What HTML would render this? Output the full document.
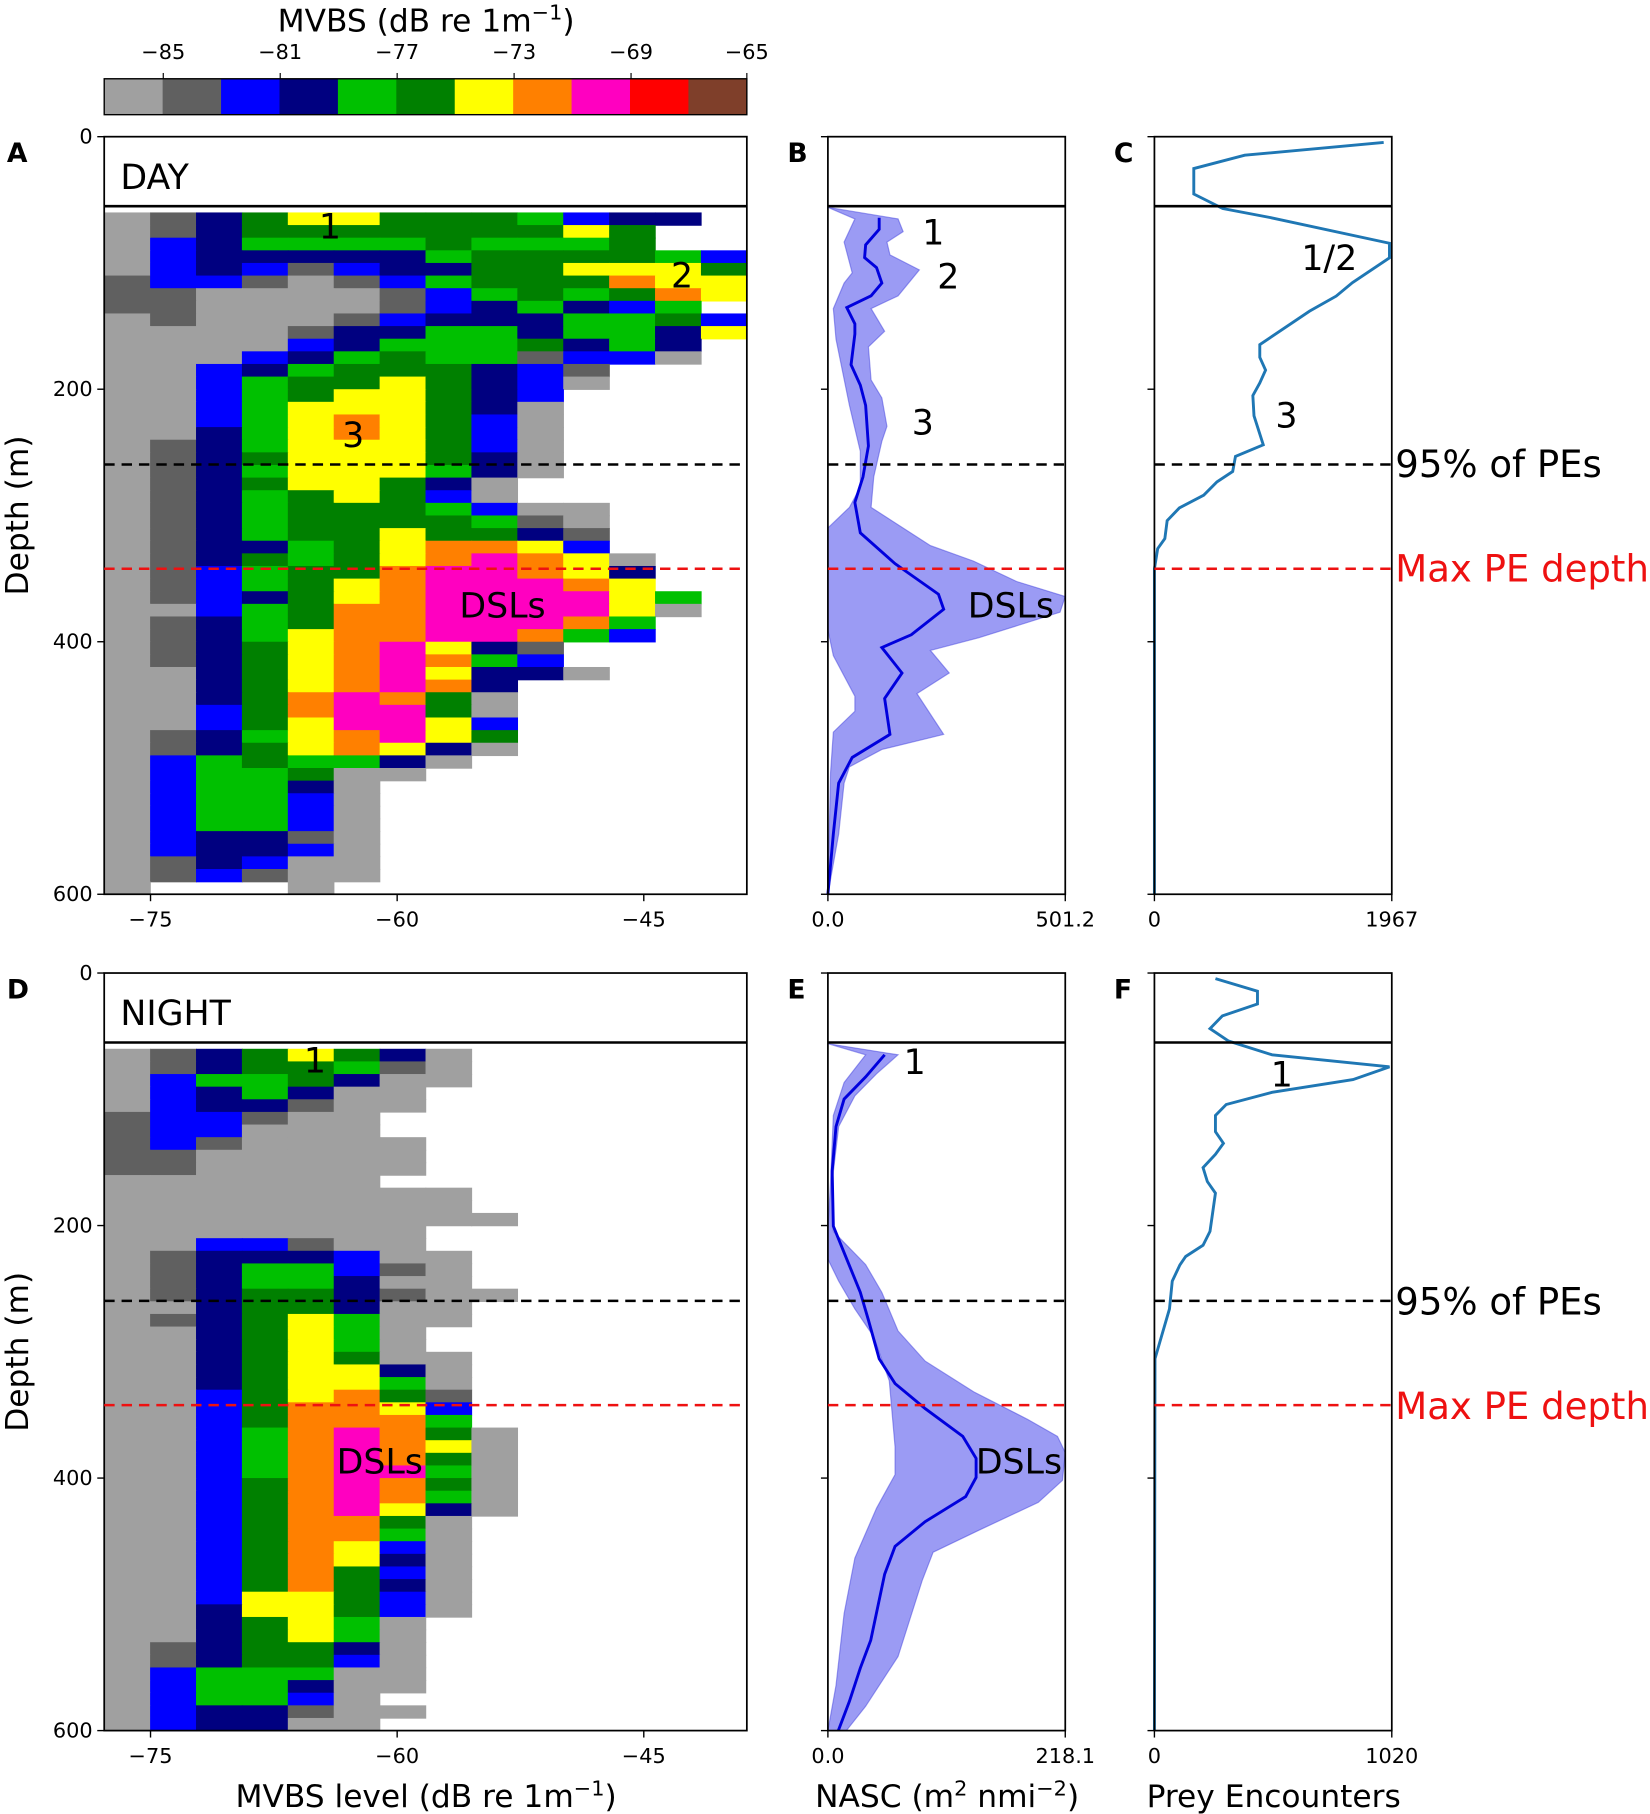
<!DOCTYPE html>
<html><head><meta charset="utf-8">
<style>
html,body{margin:0;padding:0;background:#fff;}
svg{display:block;}
text{font-family:"DejaVu Sans","Liberation Sans",sans-serif;}
</style></head>
<body>
<svg id="s" xmlns="http://www.w3.org/2000/svg" width="1650" height="1814" viewBox="0 0 1425 1566" preserveAspectRatio="none">
<rect x="0" y="0" width="1425" height="1566" fill="#fff"/>
<g id="heat"></g>
<g id="cbar"></g>
<rect x="90" y="68" width="555" height="31" fill="none" stroke="#000" stroke-width="1.2"/>
<text x="368" y="27" font-size="27" text-anchor="middle">MVBS (dB re 1m<tspan dy="-10" font-size="18">−1</tspan><tspan dy="10">)</tspan></text>
<g font-size="18" text-anchor="middle">
<text x="141" y="51">−85</text><text x="242" y="51">−81</text><text x="343" y="51">−77</text>
<text x="444" y="51">−73</text><text x="545" y="51">−69</text><text x="645" y="51">−65</text>
</g>
<g stroke="#000" stroke-width="1"><line x1="141" y1="63" x2="141" y2="68"/><line x1="242" y1="63" x2="242" y2="68"/><line x1="343" y1="63" x2="343" y2="68"/><line x1="444" y1="63" x2="444" y2="68"/><line x1="545" y1="63" x2="545" y2="68"/><line x1="645" y1="63" x2="645" y2="68"/></g>

<polygon fill="#6666ee" fill-opacity="0.65" stroke="#4444dd" stroke-opacity="0.5" points="715,179 775.6,189 780,200 766,209 768.6,220 794,233 775.6,255.4 752.3,266.4 764,286 750,299.4 752.3,328 761.6,343.5 766,368 761.6,381 754.6,411.7 752.3,438 803.5,471 840.8,484.4 878,502 920,515 915.5,528.5 845.5,550.5 803.5,561.5 819.8,581 791.9,598.8 815,634 761.6,647 733.6,662 729,676 724.3,720 715,772 717.3,667 719.7,632 738.3,614 738.3,601 719.7,566 715,543.8 715,455.8 733.6,438 743,420.5 743,389.7 733.6,350 722,292.8 719.7,266.4 729,244.4 736,235.6 729,209 738.3,189"/>
<polyline fill="none" stroke="#0000dd" stroke-width="2.5" points="759.3,188 759.3,198 747.6,211.4 746.7,222.4 757,231 761.6,244.4 752.3,255.4 731.3,265.5 738.3,279.6 738.3,288.4 735,314.9 743,332.5 747.6,350 750,385 745.3,411.7 738.3,433.8 743,460 773,486.6 810.5,513 815,526 787,548 761.6,559 779,581 764,603 768.6,634 736,653.9 724.3,676 719.7,720 715,772"/>
<polygon fill="#6666ee" fill-opacity="0.65" stroke="#4444dd" stroke-opacity="0.5" points="715,901 775.6,910.6 757,927 738.3,946 724.3,972.6 718.7,1020 719.7,1063 747.6,1091.7 761.6,1115.7 775.6,1149 799,1175 841,1201.6 887.7,1225.4 913.3,1240 920,1254 917.6,1278 896.7,1297 845.5,1321 805.9,1340 796.6,1364 775.6,1430 747.6,1473 731,1494 715,1494 722,1455 729,1393 738.3,1345 757,1302 773,1273 773,1249 768,1192 754.6,1154 738.3,1130 724.3,1106 715,1087 715,1063 717.3,1020 719.7,963 729,934.5 747.6,910.6"/>
<polyline fill="none" stroke="#0000dd" stroke-width="2.5" points="764,910.6 747.6,929.7 729,948.8 722,972.6 718.7,1010.8 719.7,1058.5 731.3,1087 743,1115.7 750,1139.6 759.3,1173 773,1194.4 799,1216 831.5,1240 843,1259 843,1275.5 834,1292 799,1313.6 773,1335 764,1359 752,1416 743,1440 733.6,1468.7 724,1494"/>
<polyline fill="none" stroke="#1f77b4" stroke-width="2.5" points="1195,123 1075,134 1031,145.5 1031,167.5 1056,180 1098,188 1200,210 1200,222.6 1168,244 1154,255.6 1131,268.6 1088,297.5 1088,308.5 1093,319.5 1088,330.6 1082,341.5 1083,359 1091,384 1067,394 1064.6,407 1051,416 1039.6,427.5 1018.5,438.5 1008,449.5 1006,465 999.8,473.7 997,491 997,772"/>
<polyline fill="none" stroke="#1f77b4" stroke-width="2.5" points="1049.7,844.8 1086,855.7 1086,866.7 1055.7,877 1045,888 1061,898.7 1098.6,910.6 1200,921 1168.5,932 1098.6,943 1059,953.5 1049.7,963 1049.7,977 1056.6,987 1049.7,996.5 1039,1008 1042.7,1020 1049.7,1030 1047,1049 1045,1063 1039,1075 1024,1084.7 1019,1092 1012.4,1106 1010,1130 1003,1154 997.5,1173 997,1494"/>

<g fill="none" stroke="#000" stroke-width="1.5">
<rect x="90" y="118" width="555" height="654"/><rect x="715" y="118" width="205" height="654"/><rect x="997" y="118" width="205" height="654"/>
<rect x="90" y="840" width="555" height="654"/><rect x="715" y="840" width="205" height="654"/><rect x="997" y="840" width="205" height="654"/>
</g>
<g stroke="#000" stroke-width="2.2">
<line x1="90" y1="178" x2="645" y2="178"/><line x1="715" y1="178" x2="920" y2="178"/><line x1="997" y1="178" x2="1202" y2="178"/>
<line x1="90" y1="900" x2="645" y2="900"/><line x1="715" y1="900" x2="920" y2="900"/><line x1="997" y1="900" x2="1202" y2="900"/>
</g>
<g stroke-width="2.2" stroke-dasharray="9,6">
<g stroke="#000"><line x1="90" y1="401" x2="645" y2="401"/><line x1="715" y1="401" x2="920" y2="401"/><line x1="997" y1="401" x2="1202" y2="401"/>
<line x1="90" y1="1123" x2="645" y2="1123"/><line x1="715" y1="1123" x2="920" y2="1123"/><line x1="997" y1="1123" x2="1202" y2="1123"/></g>
<g stroke="#ee1111"><line x1="90" y1="491" x2="645" y2="491"/><line x1="715" y1="491" x2="920" y2="491"/><line x1="997" y1="491" x2="1202" y2="491"/>
<line x1="90" y1="1213" x2="645" y2="1213"/><line x1="715" y1="1213" x2="920" y2="1213"/><line x1="997" y1="1213" x2="1202" y2="1213"/></g>
</g>
<g id="ticks" stroke="#000" stroke-width="1.2"></g>

<g font-size="18">
<g text-anchor="end"><text x="80" y="124">0</text><text x="80" y="342">200</text><text x="80" y="560">400</text><text x="80" y="778">600</text>
<text x="80" y="846">0</text><text x="80" y="1064">200</text><text x="80" y="1282">400</text><text x="80" y="1500">600</text></g>
<g text-anchor="middle"><text x="130" y="800">−75</text><text x="343" y="800">−60</text><text x="556" y="800">−45</text>
<text x="130" y="1522">−75</text><text x="343" y="1522">−60</text><text x="556" y="1522">−45</text>
<text x="715" y="800">0.0</text><text x="920" y="800">501.2</text><text x="997" y="800">0</text><text x="1202" y="800">1967</text>
<text x="715" y="1522">0.0</text><text x="920" y="1522">218.1</text><text x="997" y="1522">0</text><text x="1202" y="1522">1020</text></g>
</g>
<g font-size="27">
<text transform="translate(24,445) rotate(-90)" text-anchor="middle">Depth (m)</text>
<text transform="translate(24,1167) rotate(-90)" text-anchor="middle">Depth (m)</text>
<text x="368" y="1560" text-anchor="middle">MVBS level (dB re 1m<tspan dy="-10" font-size="18">−1</tspan><tspan dy="10">)</tspan></text>
<text x="818" y="1560" text-anchor="middle">NASC (m<tspan dy="-10" font-size="18">2</tspan><tspan dy="10"> nmi</tspan><tspan dy="-10" font-size="18">−2</tspan><tspan dy="10">)</tspan></text>
<text x="1100" y="1560" text-anchor="middle">Prey Encounters</text>
</g>
<g font-size="23" font-weight="bold">
<text x="6" y="140">A</text><text x="680" y="140">B</text><text x="962" y="140">C</text>
<text x="6" y="862">D</text><text x="680" y="862">E</text><text x="962" y="862">F</text>
</g>
<g font-size="30">
<text x="104" y="163">DAY</text><text x="104" y="885">NIGHT</text>
<text x="285" y="206" text-anchor="middle">1</text><text x="589" y="248" text-anchor="middle">2</text><text x="305" y="386" text-anchor="middle">3</text>
<text x="434" y="533" text-anchor="middle">DSLs</text>
<text x="272" y="926" text-anchor="middle">1</text><text x="328" y="1272" text-anchor="middle">DSLs</text>
<text x="806" y="211" text-anchor="middle">1</text><text x="819" y="249" text-anchor="middle">2</text><text x="797" y="375" text-anchor="middle">3</text>
<text x="873" y="533" text-anchor="middle">DSLs</text>
<text x="790" y="927" text-anchor="middle">1</text><text x="880" y="1272" text-anchor="middle">DSLs</text>
<text x="1148" y="233" text-anchor="middle">1/2</text><text x="1111" y="369" text-anchor="middle">3</text><text x="1107" y="938" text-anchor="middle">1</text>
</g>
<g font-size="32">
<text x="1205" y="412">95% of PEs</text><text x="1205" y="502" fill="#ee1111">Max PE depth</text>
<text x="1205" y="1135">95% of PEs</text><text x="1205" y="1225" fill="#ee1111">Max PE depth</text>
</g>
</svg>
<script>
var NS="http://www.w3.org/2000/svg";
var C={a:"#a0a0a0",d:"#606060",b:"#0000ff",n:"#000080",g:"#00c000",G:"#008000",y:"#ffff00",o:"#ff8000",m:"#ff00c0",r:"#ff0000"};
var day=["adnGyyGGGgbnnw","adnGGGGGGGyGww","abnggggGgggGww","abnnnnngGGGGgb","abnbdbnnGGyyyG","dbbdadbgGGGoyy","ddaaaadbgGgGoy","ddaaaadbngnbgw","adaaadbnnnggGb","aaaadnnggnggny","aaaabngggGngnw","aaabngGggdbbaw","aabngGGGnbdwww","aabgGGyGnbawww","aabgGyyGnbwwww","aabgyyyGnawwww","aabgyoyGbawwww","aangyoyGbawwww","adngyyyGbawwww","adnGyyyGnawwww","adngyyygnawwww","adnGyyGnawwwww","adngGyGbawwwww","adngGGGgbaawww","adngGGGGgdawww","adngGGyGGndwww","adnngGyooybwww","adnGgGyomoyaww","adbgGGommoynww","adbgGyommmoyww","adbnGyommmmygw","aabgGoommmmyaw","adngGoommmogww","adngyoommogbww","adnGyomyndwwww","adnGyomogbwwww","aanGyomynnawww","aanGyomonwwwww","aanGomoGawwwww","aabGommGawwwww","aabGymmybwwwww","adngyomyGwwwww","adnGyoynawwwww","abgGggnawwwwww","abggGaawwwwwww","abggnawwwwwwww","abggbawwwwwwww","abggbawwwwwwww","abggbawwwwwwww","abnndawwwwwwww","abnnbawwwwwwww","adnbaawwwwwwww","adbdaawwwwwwww","awwwawwwwwwwww"];
var night=["adnGyGnawwwwww","adnGGgdawwwwww","abggGnaawwwwww","abngnaawwwwwww","abnndaawwwwwww","dbbdaawwwwwwww","dbbaaawwwwwwww","dbdaaaawwwwwww","ddaaaaawwwwwww","ddaaaaawwwwwww","aaaaaawwwwwwww","aaaaaaaawwwwww","aaaaaaaawwwwww","aaaaaaaaawwwww","aaaaaaawwwwwww","aabbdaawwwwwww","adnnnbaawwwwww","adnggbdawwwwww","adnggnaawwwwww","adnGGndaawwwww","aanGGnaawwwwww","adnGygaawwwwww","aanGygawwwwwww","aanGygawwwwwww","aanGyGaawwwwww","aanGyynawwwwww","aanGyygawwwwww","aabGyoGdwwwwww","aabGooybwwwwww","aabGooogwwwwww","aabgomoGawwwww","aabgomoyawwwww","aabgomoGawwwww","aabgommgawwwww","aabGomoGawwwww","aabGomogawwwww","aabGomynawwwww","aabGooGawwwwww","aabGoogawwwwww","aabGoybawwwwww","aabGoynawwwwww","aabGoGbawwwwww","aabGoGnawwwwww","aabyyGbawwwwww","aanyyGbawwwwww","aanGygawwwwwww","aanGygawwwwwww","adnGGnawwwwwww","adnGGbawwwwwww","abgggaawwwwwww","abggnaawwwwwww","abggbawwwwwwww","abnndaawwwwwww","abnnaawwwwwwww"];
var heat=document.getElementById("heat");
var cw=555/14, rh=10.9;
function draw(rows,y0){
 for(var r=0;r<rows.length;r++){
  var s=rows[r];
  for(var c=0;c<14;c++){
   var k=s[c]; if(!k||k=="w")continue;
   var e=document.createElementNS(NS,"rect");
   e.setAttribute("x",(90+c*cw).toFixed(2));
   e.setAttribute("y",(y0+(60+r*10)*1.09).toFixed(2));
   e.setAttribute("width",(cw+0.6).toFixed(2));
   e.setAttribute("height",(rh+0.6).toFixed(2));
   e.setAttribute("fill",C[k]);
   heat.appendChild(e);
  }
 }
}
draw(day,118);draw(night,840);
var cb=document.getElementById("cbar");
var cols=["#a0a0a0","#606060","#0000ff","#000080","#00c000","#008000","#ffff00","#ff8000","#ff00c0","#ff0000","#7f3f2a"];
for(var i=0;i<11;i++){var e=document.createElementNS(NS,"rect");e.setAttribute("x",90+i*555/11);e.setAttribute("y",68);e.setAttribute("width",555/11+0.5);e.setAttribute("height",31);e.setAttribute("fill",cols[i]);cb.appendChild(e);}
var tk=document.getElementById("ticks");
function ln(x1,y1,x2,y2){var e=document.createElementNS(NS,"line");e.setAttribute("x1",x1);e.setAttribute("y1",y1);e.setAttribute("x2",x2);e.setAttribute("y2",y2);tk.appendChild(e);}
[118,840].forEach(function(t){
 [0,218,436,654].forEach(function(d){ln(84,t+d,90,t+d);ln(709,t+d,715,t+d);ln(991,t+d,997,t+d);});
 var b=t+654;
 [130,343,556].forEach(function(x){ln(x,b,x,b+6);});
 [715,920,997,1202].forEach(function(x){ln(x,b,x,b+6);});
});
</script>
</body></html>
